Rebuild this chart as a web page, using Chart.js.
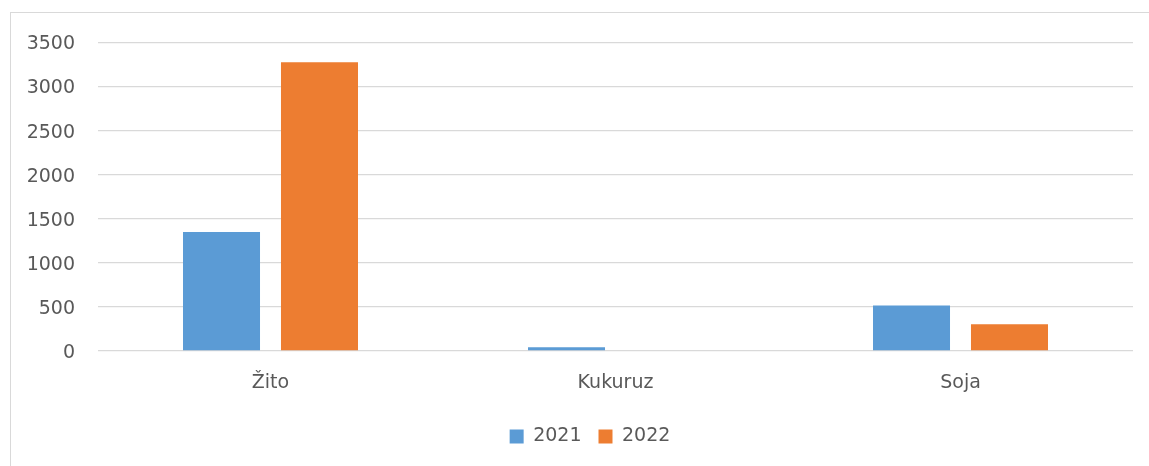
<!DOCTYPE html>
<html lang="en">
<head>
    <meta charset="UTF-8">
    <title>Žito, Kukuruz, Soja 2021 / 2022</title>
    <script src="https://cdn.jsdelivr.net/npm/chart.js"></script>
    <style>
        * { margin: 0; padding: 0; box-sizing: border-box; }
        body { background: #fff; width: 1149px; height: 466px; overflow: hidden; position: relative; }
        #wrap {
            position: absolute;
            left: 10px;
            top: 12px;
            width: 1162px;
            height: 470px;
            border: 1px solid #d9d9d9;
        }
        canvas { display: block; margin-top: -5px; }
    </style>
</head>
<body>
    <div id="wrap"><canvas id="myChart" width="1160" height="468"></canvas></div>
    <script>
        const categories = ['Žito', 'Kukuruz', 'Soja'];
        const values2021 = [1350, 42, 515];
        const values2022 = [3275, 0, 303];
        const yTicks = [0, 500, 1000, 1500, 2000, 2500, 3000, 3500];

        const font = { family: 'DejaVu Sans', size: 19 };
        const textColor = '#595959';

        const ctx = document.getElementById('myChart').getContext('2d');
        new Chart(ctx, {
            type: 'bar',
            data: {
                labels: categories,
                datasets: [
                    {
                        label: '2021',
                        data: values2021,
                        backgroundColor: '#5b9bd5',
                        borderWidth: 0,
                        categoryPercentage: 0.568,
                        barPercentage: 0.786
                    },
                    {
                        label: '2022',
                        data: values2022,
                        backgroundColor: '#ed7d31',
                        borderWidth: 0,
                        categoryPercentage: 0.568,
                        barPercentage: 0.786
                    }
                ]
            },
            options: {
                responsive: false,
                animation: false,
                layout: {
                    padding: { left: 0, right: 2, top: 20, bottom: 20 }
                },
                scales: {
                    x: {
                        grid: { display: false },
                        border: { display: false },
                        ticks: { color: textColor, font: font, padding: 13 },
                        afterFit: (scale) => { scale.height = 59; }
                    },
                    y: {
                        min: 0,
                        max: 3500,
                        afterBuildTicks: (scale) => {
                            scale.ticks = yTicks.map(v => ({ value: v }));
                        },
                        afterFit: (scale) => { scale.width = 87; },
                        grid: { color: '#d9d9d9', lineWidth: 1.3, drawTicks: false },
                        border: { display: false },
                        ticks: {
                            color: textColor,
                            font: font,
                            padding: 23,
                            labelOffset: 2,
                            callback: (v) => String(v)
                        }
                    },
                    // empty spacer on the right so the legend sits where Excel puts it
                    spacer: {
                        position: 'right',
                        min: 0,
                        max: 1,
                        grid: { display: false },
                        border: { display: false },
                        ticks: { display: false },
                        afterFit: (scale) => { scale.width = 36; }
                    }
                },
                plugins: {
                    legend: {
                        position: 'bottom',
                        labels: {
                            color: textColor,
                            font: font,
                            boxWidth: 14,
                            boxHeight: 14,
                            padding: 17
                        }
                    },
                    tooltip: { enabled: false }
                }
            }
        });
    </script>
</body>
</html>
